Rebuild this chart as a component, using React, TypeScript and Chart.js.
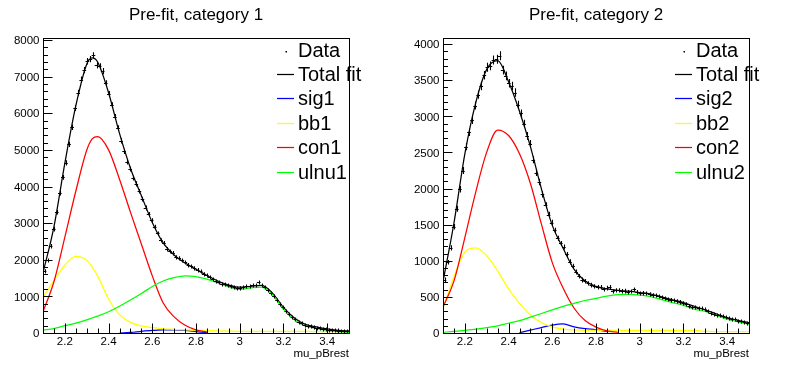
import React, { useEffect, useRef } from "react";
import { Chart, registerables } from "chart.js";

Chart.register(...registerables);

// ---------- data ----------
const X_MIN = 2.1;
const X_MAX = 3.5;

const curveX1 = [2.1, 2.15, 2.2, 2.25, 2.3, 2.325, 2.35, 2.4, 2.45, 2.5, 2.55, 2.6, 2.65, 2.7, 2.75, 2.8, 2.85, 2.9, 2.95, 3.0, 3.05, 3.1, 3.15, 3.2, 3.25, 3.3, 3.35, 3.4, 3.45, 3.5];
const total1 = [1640, 2900, 4640, 6200, 7340, 7510, 7400, 6560, 5450, 4500, 3750, 3020, 2460, 2130, 1910, 1740, 1570, 1420, 1310, 1250, 1275, 1300, 1090, 700, 410, 235, 165, 110, 75, 55];
const sig1 = [null, null, null, null, null, null, null, null, 0, 15, 45, 70, 85, 85, 70, 40, 10, null, null, null, null, null, null, null, null, null, null, null, null, null];
const bb1 = [980, 1430, 1850, 2090, 1990, 1800, 1560, 930, 500, 290, 195, 145, 115, 100, 85, 72, 62, 55, 50, 46, 45, 45, 45, 45, 45, 42, 40, 40, 40, 40];
const con1 = [580, 1400, 2620, 3870, 4990, 5300, 5360, 5000, 4200, 3300, 2430, 1560, 820, 440, 210, 85, 25, null, null, null, null, null, null, null, null, null, null, null, null, null];
const ulnu1 = [80, 120, 200, 270, 360, 410, 460, 580, 730, 900, 1080, 1270, 1420, 1510, 1560, 1540, 1470, 1370, 1260, 1190, 1230, 1255, 1045, 655, 365, 195, 125, 70, 35, 15];
const data1 = [
  1700, 1980, 2380, 2850, 3300, 3830, 4250, 4650, 5150, 5620,
  6140, 6560, 6920, 7180, 7420, 7480, 7580, 7310, 7280, 7150,
  6820, 6530, 6220, 5900, 5600, 5250, 4960, 4680, 4480, 4230,
  4080, 3870, 3660, 3420, 3250, 3080, 2900, 2720, 2540, 2460,
  2300, 2230, 2190, 2080, 2050, 1980, 1930, 1870, 1820, 1780,
  1730, 1690, 1620, 1580, 1520, 1470, 1420, 1380, 1340, 1330,
  1300, 1270, 1260, 1230, 1240, 1250, 1290, 1270, 1300, 1300,
  1380, 1310, 1250, 1180, 1100, 1010, 900, 800, 700, 600,
  510, 430, 370, 310, 260, 225, 195, 180, 160, 150,
  130, 115, 100, 90, 80, 70, 62, 55, 50, 45,
];

const curveX2 = [2.1, 2.15, 2.2, 2.25, 2.3, 2.35, 2.4, 2.45, 2.5, 2.55, 2.6, 2.65, 2.7, 2.75, 2.8, 2.85, 2.9, 2.95, 3.0, 3.05, 3.1, 3.15, 3.2, 3.25, 3.3, 3.35, 3.4, 3.45, 3.5];
const total2 = [710, 1520, 2480, 3190, 3650, 3770, 3480, 3070, 2580, 2000, 1490, 1170, 880, 720, 645, 610, 590, 580, 560, 540, 500, 460, 420, 370, 320, 265, 212, 175, 142];
const sig2 = [null, null, null, null, null, null, null, 5, 40, 75, 110, 125, 85, 60, 45, 20, null, null, null, null, null, null, null, null, null, null, null, null, null];
const bb2 = [330, 780, 1120, 1180, 1070, 860, 610, 410, 250, 145, 85, 55, 42, 38, 38, 38, 38, 38, 38, 38, 38, 38, 38, 38, 22, 20, 20, 20, 20];
const con2 = [360, 718, 1322, 1955, 2505, 2810, 2735, 2482, 2070, 1510, 975, 620, 343, 172, 82, 30, 10, null, null, null, null, null, null, null, null, null, null, null, null];
const ulnu2 = [10, 22, 38, 55, 75, 100, 135, 170, 220, 270, 320, 370, 410, 450, 480, 510, 530, 535, 525, 505, 462, 422, 382, 332, 298, 245, 192, 155, 122];
const data2 = [
  740, 980, 1180, 1470, 1720, 1990, 2250, 2580, 2780, 2950,
  3150, 3300, 3420, 3570, 3680, 3700, 3780, 3790, 3840, 3640,
  3560, 3460, 3420, 3330, 3160, 3040, 2900, 2730, 2620, 2400,
  2220, 2090, 1920, 1770, 1640, 1530, 1420, 1310, 1240, 1190,
  1090, 990, 930, 850, 790, 740, 720, 690, 670, 650,
  640, 640, 605, 630, 640, 575, 595, 595, 585, 588,
  572, 580, 605, 572, 550, 558, 548, 542, 528, 520,
  512, 495, 482, 470, 462, 456, 446, 436, 420, 405,
  376, 366, 356, 348, 340, 328, 300, 280, 265, 252,
  249, 240, 215, 202, 190, 188, 172, 162, 148, 140,
];

const xTickValues = [2.2, 2.4, 2.6, 2.8, 3.0, 3.2, 3.4];
const xTickLabels = ["2.2", "2.4", "2.6", "2.8", "3", "3.2", "3.4"];
const yTickValues1 = [0, 1000, 2000, 3000, 4000, 5000, 6000, 7000, 8000];
const yTickValues2 = [0, 500, 1000, 1500, 2000, 2500, 3000, 3500, 4000];
const legendNames1 = ["Data", "Total fit", "sig1", "bb1", "con1", "ulnu1"];
const legendNames2 = ["Data", "Total fit", "sig2", "bb2", "con2", "ulnu2"];
const xTitle = "mu_pBrest";

// ---------- styles ----------
const W = 398;
const H = 375;
const FONT = "'Liberation Sans', Arial, Helvetica, sans-serif";
const COLORS = { total: "#000000", sig: "#0000ff", bb: "#ffff00", con: "#ff0000", ulnu: "#00ff00" };

const panels = [
  {
    left: 0, title: "Pre-fit, category 1", yMax: 8055, yMajor: 1000, yMinor: 200,
    yTicks: yTickValues1, pad: { left: 43, right: 49, top: 38, bottom: 42 },
    curveX: curveX1, data: data1, total: total1, sig: sig1, bb: bb1, con: con1, ulnu: ulnu1,
    names: legendNames1,
  },
  {
    left: 398, title: "Pre-fit, category 2", yMax: 4085, yMajor: 500, yMinor: 100,
    yTicks: yTickValues2, pad: { left: 45, right: 47, top: 38, bottom: 42 },
    curveX: curveX2, data: data2, total: total2, sig: sig2, bb: bb2, con: con2, ulnu: ulnu2,
    names: legendNames2,
  },
];

type PanelCfg = (typeof panels)[number];

function Panel({ cfg }: { cfg: PanelCfg }) {
  const ref = useRef<HTMLCanvasElement>(null);

  useEffect(() => {
    const canvas = ref.current;
    if (!canvas) return;
    const pts = (xs: number[], ys: (number | null)[]) => xs.map((x, i) => ({ x, y: ys[i] }));
    const nb = cfg.data.length;
    const binW = (X_MAX - X_MIN) / nb;
    const centers = cfg.data.map((_, i) => X_MIN + (i + 0.5) * binW);

    const line = (label: string, ys: (number | null)[], color: string) => ({
      label,
      data: pts(cfg.curveX, ys),
      borderColor: color,
      backgroundColor: color,
      borderWidth: 1.25,
      pointRadius: 0,
      fill: false,
      spanGaps: false,
      cubicInterpolationMode: "monotone" as const,
    });

    const rootPad = {
      id: "rootPad",
      afterDatasetsDraw(chart: any) {
        const c = chart.ctx as CanvasRenderingContext2D;
        const xs = chart.scales.x;
        const ys = chart.scales.y;
        const a = chart.chartArea;
        c.save();
        c.beginPath();
        c.rect(a.left, a.top, a.right - a.left, a.bottom - a.top);
        c.clip();
        c.strokeStyle = "#000";
        c.lineWidth = 1.1;
        c.beginPath();
        cfg.data.forEach((v, i) => {
          const x = centers[i];
          const px = Math.round(xs.getPixelForValue(x)) + 0.5;
          const py = Math.round(ys.getPixelForValue(v)) + 0.5;
          const x0 = xs.getPixelForValue(x - binW / 2) - 0.3;
          const x1 = xs.getPixelForValue(x + binW / 2) + 0.3;
          const e = Math.sqrt(v);
          const y0 = ys.getPixelForValue(v - e);
          const y1 = ys.getPixelForValue(v + e);
          c.moveTo(x0, py);
          c.lineTo(x1, py);
          c.moveTo(px, Math.max(y0, py + 2));
          c.lineTo(px, Math.min(y1, py - 2));
        });
        c.stroke();
        c.restore();
      },
      afterDraw(chart: any) {
        const c = chart.ctx as CanvasRenderingContext2D;
        const xs = chart.scales.x;
        const ys = chart.scales.y;
        const a = chart.chartArea;
        const L = Math.round(a.left) + 0.5;
        const R = Math.round(a.right) + 0.5;
        const T = Math.round(a.top) + 0.5;
        const B = Math.round(a.bottom) + 0.5;
        c.save();
        c.strokeStyle = "#000";
        c.fillStyle = "#000";
        c.lineWidth = 1;
        // frame
        c.strokeRect(L, T, R - L, B - T);
        // y ticks
        c.beginPath();
        const nY = Math.floor(cfg.yMax / cfg.yMinor + 1e-9);
        for (let k = 0; k <= nY; k++) {
          const v = k * cfg.yMinor;
          const major = v % cfg.yMajor === 0;
          const py = Math.round(ys.getPixelForValue(v)) + 0.5;
          c.moveTo(L, py);
          c.lineTo(L + (major ? 9 : 4.5), py);
        }
        // x ticks
        const k0 = Math.ceil(X_MIN / 0.05 - 1e-9);
        const k1 = Math.floor(X_MAX / 0.05 + 1e-9);
        for (let k = k0; k <= k1; k++) {
          const v = k * 0.05;
          const major = k % 4 === 0;
          const px = Math.round(xs.getPixelForValue(v)) + 0.5;
          c.moveTo(px, B);
          c.lineTo(px, B - (major ? 10 : 5));
        }
        c.stroke();

        // tick labels
        c.font = `11.5px ${FONT}`;
        c.textBaseline = "alphabetic";
        c.textAlign = "right";
        cfg.yTicks.forEach((v) => {
          const py = ys.getPixelForValue(v);
          c.fillText(String(v), a.left - 3.5, py + 4.2);
        });
        c.textAlign = "center";
        xTickValues.forEach((v, i) => {
          c.fillText(xTickLabels[i], xs.getPixelForValue(v), a.bottom + 12);
        });
        c.textAlign = "right";
        c.fillText(xTitle, a.right, a.bottom + 24);

        // title
        c.font = `17px ${FONT}`;
        c.textAlign = "center";
        c.fillText(cfg.title, (a.left + a.right) / 2, 20);

        // legend
        const rowY = [49.5, 73.5, 98, 122.5, 147, 171.5];
        const colors = ["", COLORS.total, COLORS.sig, COLORS.bb, COLORS.con, COLORS.ulnu];
        c.font = `20px ${FONT}`;
        c.textAlign = "left";
        c.lineWidth = 1.25;
        cfg.names.forEach((name, i) => {
          const y = rowY[i];
          if (i === 0) {
            c.fillStyle = "#000";
            c.fillRect(285.5, y + 1.5, 1.5, 1.5);
          } else {
            c.strokeStyle = colors[i];
            c.beginPath();
            c.moveTo(277, Math.round(y) + 0.5);
            c.lineTo(294, Math.round(y) + 0.5);
            c.stroke();
          }
          c.fillStyle = "#000";
          c.fillText(name, 298, y + 7);
        });
        c.restore();
      },
    };

    const chart = new Chart(canvas, {
      type: "line",
      data: {
        datasets: [
          line(cfg.names[5], cfg.ulnu, COLORS.ulnu),
          line(cfg.names[4], cfg.con, COLORS.con),
          line(cfg.names[3], cfg.bb, COLORS.bb),
          line(cfg.names[2], cfg.sig, COLORS.sig),
          line(cfg.names[1], cfg.total, COLORS.total),
          {
            label: cfg.names[0],
            data: pts(centers, cfg.data),
            showLine: false,
            pointRadius: 0,
            borderColor: "#000",
          } as any,
        ],
      },
      options: {
        responsive: false,
        animation: false,
        devicePixelRatio: 1,
        events: [],
        layout: { padding: cfg.pad },
        plugins: {
          legend: { display: false },
          tooltip: { enabled: false },
          title: { display: false },
        },
        scales: {
          x: { type: "linear", min: X_MIN, max: X_MAX, display: false },
          y: { type: "linear", min: 0, max: cfg.yMax, display: false },
        },
      },
      plugins: [rootPad],
    } as any);
    return () => chart.destroy();
  }, [cfg]);

  return (
    <canvas
      ref={ref}
      width={W}
      height={H}
      style={{ position: "absolute", left: cfg.left, top: 0, width: W, height: H }}
    />
  );
}

export default function App() {
  return (
    <div style={{ position: "fixed", left: 0, top: 0, width: 796, height: 375, background: "#ffffff" }}>
      {panels.map((p) => (
        <Panel key={p.title} cfg={p} />
      ))}
    </div>
  );
}
